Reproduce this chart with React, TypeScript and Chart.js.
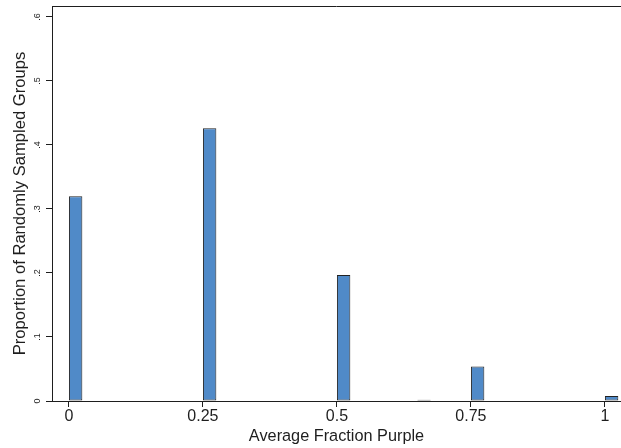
import React, { useEffect, useRef } from "react";
import { Chart, registerables } from "chart.js";

Chart.register(...registerables);

// ---- data ----
const binStarts = [0, 0.25, 0.5, 0.65, 0.75, 1.0];
const proportions = [0.32, 0.426, 0.197, 0.002, 0.054, 0.008];
const binWidth = 0.025;
const xTickValues = [0, 0.25, 0.5, 0.75, 1];
const xTickLabels = ["0", "0.25", "0.5", "0.75", "1"];
const yTickValues = [0, 0.1, 0.2, 0.3, 0.4, 0.5, 0.6];
const yTickLabels = ["0", ".1", ".2", ".3", ".4", ".5", ".6"];
const xTitle = "Average Fraction Purple";
const yTitle = "Proportion of Randomly Sampled Groups";

const FONT = "'Liberation Sans', Arial, Helvetica, sans-serif";
const INK = "#1e1e1e";

export default function App() {
  const ref = useRef<HTMLCanvasElement | null>(null);

  useEffect(() => {
    document.body.style.margin = "0";
    const canvas = ref.current;
    if (!canvas) return;

    const centers = binStarts.map((s) => s + binWidth / 2);
    const points = centers.map((c, i) => ({ x: c, y: proportions[i] }));
    const gaps: number[] = [];
    for (let i = 1; i < centers.length; i++) gaps.push(centers[i] - centers[i - 1]);
    for (let i = 1; i < xTickValues.length; i++) gaps.push(xTickValues[i] - xTickValues[i - 1]);
    const minGap = Math.min(...gaps);

    const topLine = {
      id: "topLine",
      afterDraw(chart: any) {
        const { ctx, chartArea } = chart;
        ctx.save();
        ctx.strokeStyle = INK;
        ctx.lineWidth = 1;
        ctx.beginPath();
        ctx.moveTo(chartArea.left, Math.round(chartArea.top) + 0.5);
        ctx.lineTo(chartArea.right, Math.round(chartArea.top) + 0.5);
        ctx.stroke();
        ctx.restore();
      },
    };

    const chart = new Chart(canvas, {
      type: "bar",
      data: {
        datasets: [
          {
            data: points as any,
            backgroundColor: "#508ac8",
            borderColor: "#222222",
            borderWidth: 1,
            borderSkipped: false,
            barPercentage: binWidth / minGap,
            categoryPercentage: 1,
            grouped: false,
          },
        ],
      },
      options: {
        responsive: false,
        animation: false,
        layout: { padding: { top: 6, right: 0, left: 0, bottom: 0 } },
        plugins: { legend: { display: false }, tooltip: { enabled: false } },
        scales: {
          x: {
            type: "linear",
            min: -0.0316,
            max: 1.03,
            offset: false,
            afterBuildTicks: (s: any) => {
              s.ticks = xTickValues.map((v) => ({ value: v }));
            },
            afterFit: (s: any) => {
              s.height = 47;
              s.paddingLeft = 0;
              s.paddingRight = 0;
            },
            ticks: {
              autoSkip: false,
              maxRotation: 0,
              minRotation: 0,
              padding: 0,
              color: INK,
              font: { family: FONT, size: 16 },
              callback: (v: any) => {
                const i = xTickValues.findIndex((t) => Math.abs(t - Number(v)) < 1e-9);
                return i >= 0 ? xTickLabels[i] : "";
              },
            },
            grid: {
              display: true,
              offset: false,
              drawOnChartArea: false,
              drawTicks: true,
              tickLength: 6,
              tickColor: INK,
              color: INK,
            },
            border: { display: true, color: INK, width: 1 },
            title: {
              display: true,
              text: xTitle,
              color: INK,
              font: { family: FONT, size: 16.3 },
              padding: { top: 0, bottom: 2 },
            },
          },
          y: {
            type: "linear",
            min: 0,
            max: 0.617,
            afterBuildTicks: (s: any) => {
              s.ticks = yTickValues.map((v) => ({ value: v }));
            },
            afterFit: (s: any) => {
              s.width = 52;
              s.paddingTop = 0;
              s.paddingBottom = 0;
            },
            ticks: {
              autoSkip: false,
              minRotation: 90,
              maxRotation: 90,
              crossAlign: "center",
              padding: 5,
              color: INK,
              font: { family: FONT, size: 9 },
              callback: (v: any) => {
                const i = yTickValues.findIndex((t) => Math.abs(t - Number(v)) < 1e-9);
                return i >= 0 ? yTickLabels[i] : "";
              },
            },
            grid: {
              display: true,
              offset: false,
              drawOnChartArea: false,
              drawTicks: true,
              tickLength: 6,
              tickColor: INK,
              color: INK,
            },
            border: { display: true, color: INK, width: 1 },
            title: {
              display: true,
              text: yTitle,
              color: INK,
              font: { family: FONT, size: 16.6 },
              padding: { top: 10, bottom: 0 },
            },
          },
        },
      },
      plugins: [topLine],
    } as any);

    return () => chart.destroy();
  }, []);

  return (
    <div style={{ width: 621, height: 448 }}>
      <canvas ref={ref} width={621} height={448} style={{ display: "block" }} />
    </div>
  );
}
